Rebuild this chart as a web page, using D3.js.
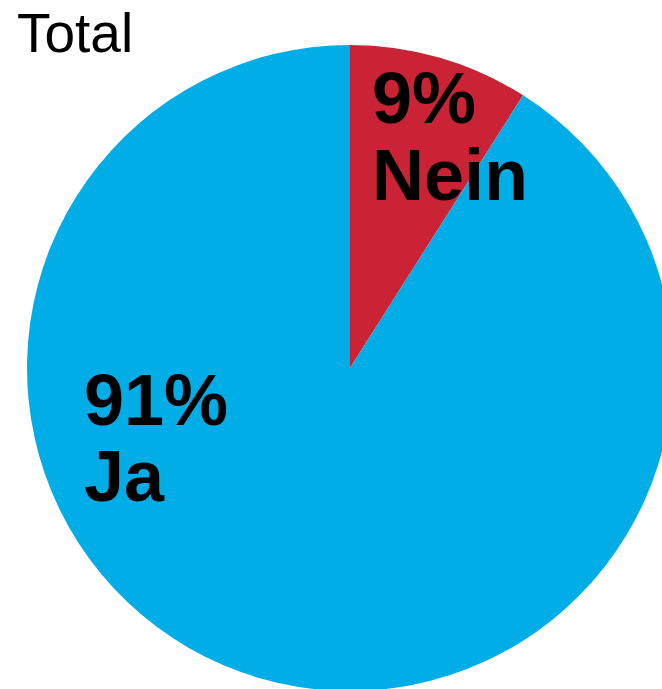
<!DOCTYPE html>
<html><head><meta charset="utf-8">
<script src="https://cdn.jsdelivr.net/npm/d3@7"></script>
<style>body{margin:0;background:#fff;}svg{display:block;}</style>
</head><body>
<svg id="c" width="662" height="689"></svg>
<script>
const categories = ["Nein", "Ja"];
const values = [9, 91];
const colors = ["#C92335", "#00ADE6"];
const title = "Total";

const svg = d3.select("#c");
const cx = 350, cy = 368, r = 323;
const pie = d3.pie().sort(null).value(d => d.v);
const arcs = pie(categories.map((c, i) => ({c, v: values[i], col: colors[i]})));
const arc = d3.arc().innerRadius(0).outerRadius(r);
const g = svg.append("g").attr("transform", `translate(${cx},${cy})`);
g.selectAll("path").data(arcs).join("path").attr("d", arc).attr("fill", d => d.data.col);

svg.append("text").attr("x", 17).attr("y", 52).attr("font-family", "Liberation Sans, Arial, sans-serif")
  .attr("font-size", 55).attr("fill", "#000").text(title);

const labelPos = [[372, 123, 200], [84, 425, 501]];
arcs.forEach((a, i) => {
  const t = svg.append("text").attr("font-family", "Liberation Sans, Arial, sans-serif")
    .attr("font-weight", "bold").attr("font-size", 72).attr("fill", "#000");
  t.append("tspan").attr("x", labelPos[i][0]).attr("y", labelPos[i][1]).text(a.data.v + "%");
  t.append("tspan").attr("x", labelPos[i][0]).attr("y", labelPos[i][2]).text(a.data.c);
});
</script>
</body></html>
